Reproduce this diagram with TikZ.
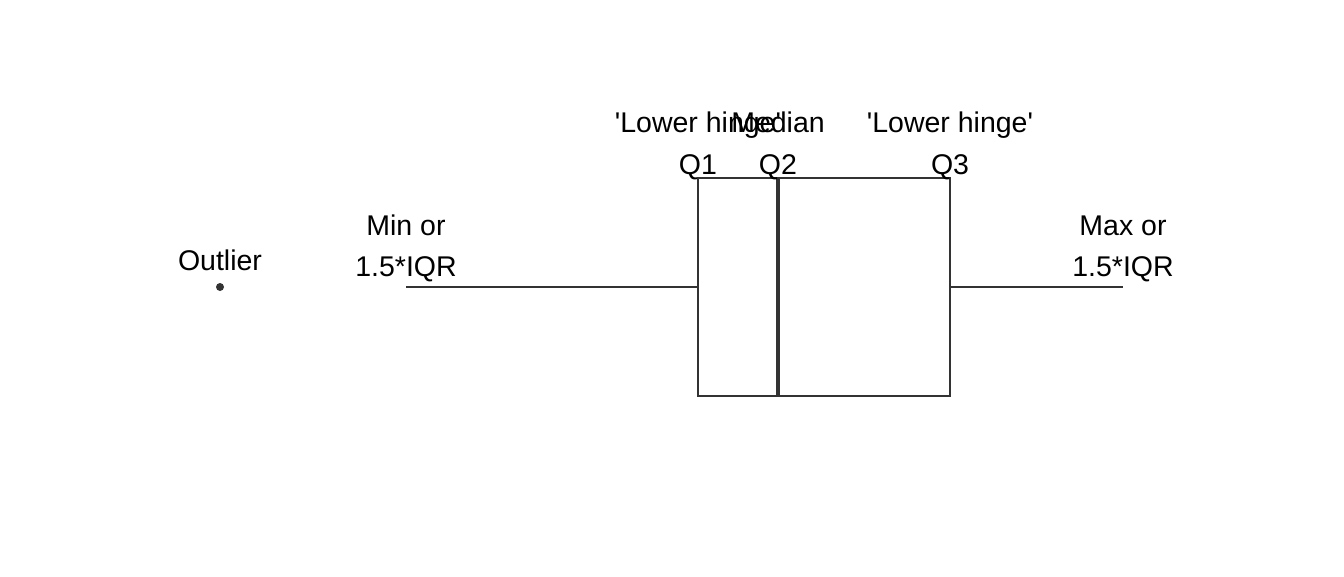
\documentclass[tikz,border=0pt]{standalone}
\usepackage{fontspec}
\setmainfont{Liberation Sans}
\definecolor{ink}{HTML}{333333}
\tikzset{
  lbl/.style={anchor=base, inner sep=0pt, font=\fontsize{28.5}{31}\selectfont, text=black},
  part/.style={draw=ink, line width=1.6pt},
  mid/.style={draw=ink, line width=4pt}
}
\begin{document}
\begin{tikzpicture}[x=1pt,y=-1pt]
\useasboundingbox (0,0) rectangle (1344,576);
\fill[white] (0,0) rectangle (1344,576);
% coordinates
\coordinate (q1top) at (698,178);
\coordinate (q3bot) at (950,396);
\coordinate (q2top) at (778,178);
\coordinate (q2bot) at (778,396);
\coordinate (q1mid) at (698,287);
\coordinate (q3mid) at (950,287);
\coordinate (wlo) at (406,287);
\coordinate (whi) at (1123,287);
% box
\draw[part] (q1top) rectangle (q3bot);
\draw[mid] (q2top) -- (q2bot);
\draw[part] (wlo) -- (q1mid);
\draw[part] (q3mid) -- (whi);
\node[circle, fill=ink, inner sep=0pt, minimum size=8pt] (out) at (220,287) {};
% labels
\node[lbl] (lh1) at (698,132) {\textquotesingle Lower hinge\textquotesingle};
\node[lbl] (med) at (778,132) {Median};
\node[lbl] (lh2) at (950,132) {\textquotesingle Lower hinge\textquotesingle};
\node[lbl] (q1) at (698,174) {Q1};
\node[lbl] (q2) at (778,174) {Q2};
\node[lbl] (q3) at (950,174) {Q3};
\node[lbl] (minor) at (406,235) {Min or};
\node[lbl] (miniqr) at (406,276) {1.5*IQR};
\node[lbl] (maxor) at (1123,235) {Max or};
\node[lbl] (maxiqr) at (1123,276) {1.5*IQR};
\node[lbl] (outl) at (220,270) {Outlier};
\end{tikzpicture}
\end{document}
